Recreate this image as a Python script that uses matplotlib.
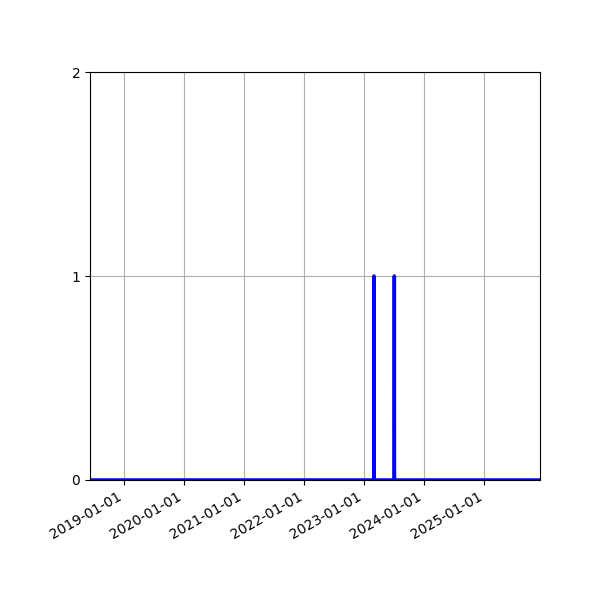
import matplotlib
matplotlib.use('Agg')
import matplotlib.pyplot as plt
import matplotlib.dates as mdates
import numpy as np
import pandas as pd

start_date = '2018-06-06'
end_date = '2025-12-06'
event_dates = ['2023-03-01', '2023-07-03']
event_values = [1, 1]
y_ticks = [0, 1, 2]


def main():
    days = pd.date_range(start_date, end_date, freq='D')
    values = pd.Series(0, index=days)
    for d, v in zip(event_dates, event_values):
        values[pd.Timestamp(d)] = v

    fig = plt.figure(figsize=(6, 6), dpi=100)
    ax = fig.gca()
    ax.plot(values.index, values.values, color='blue', lw=2.5)
    ax.set_xlim(days[0], days[-1])
    ax.set_ylim(0, 2)
    ax.set_yticks(y_ticks)
    ax.xaxis.set_major_locator(mdates.YearLocator())
    ax.xaxis.set_major_formatter(mdates.DateFormatter('%Y-%m-%d'))
    ax.grid(True)
    fig.autofmt_xdate()
    fig.subplots_adjust(left=0.15)
    fig.savefig('out.png')


if __name__ == "__main__":
    main()
